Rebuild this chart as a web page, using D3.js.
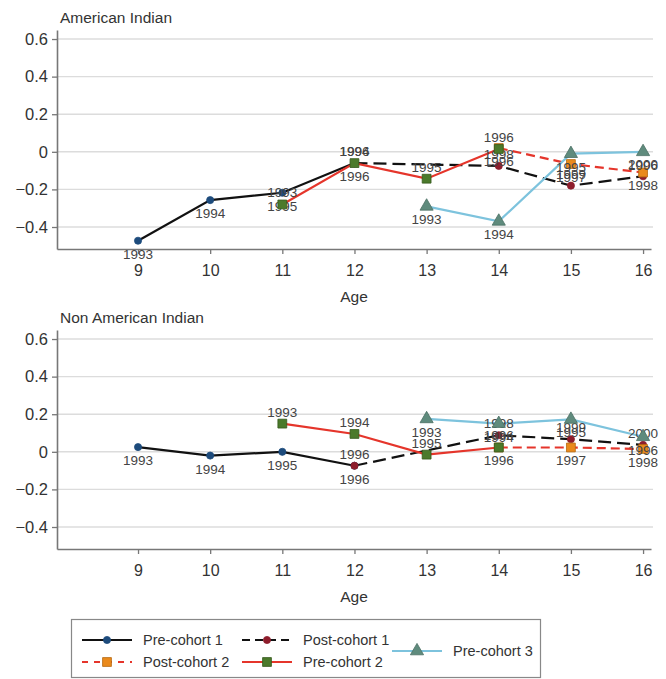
<!DOCTYPE html>
<html>
<head>
<meta charset="utf-8">
<script src="https://cdn.jsdelivr.net/npm/d3@7"></script>
<style>
  body { margin: 0; background: #fff; }
  svg { display: block; font-family: "Liberation Sans", Arial, Helvetica, sans-serif; }
</style>
</head>
<body>
<div id="app"></div>
<script>
(function (d3) {
  'use strict'

  // ---- data ----
  const panelTitles = ['American Indian', 'Non American Indian']
  const xTicks = [9, 10, 11, 12, 13, 14, 15, 16]
  const yTicks = [-0.4, -0.2, 0, 0.2, 0.4, 0.6]
  const xLabel = 'Age'

  const preCohort1Ages = [9, 10, 11, 12]
  const preCohort1Years = [1993, 1994, 1995, 1996]
  const preCohort1AI = [-0.473, -0.257, -0.218, -0.06]
  const preCohort1NonAI = [0.025, -0.02, 0.0, -0.074]

  const postCohort1Ages = [12, 14, 15, 16]
  const postCohort1Years = [1996, 1998, 1999, 2000]
  const postCohort1AI = [-0.06, -0.075, -0.18, -0.13]
  const postCohort1NonAI = [-0.074, 0.088, 0.067, 0.037]

  const postCohort2Ages = [14, 15, 16]
  const postCohort2Years = [1996, 1997, 1998]
  const postCohort2AI = [0.02, -0.065, -0.11]
  const postCohort2NonAI = [0.023, 0.023, 0.015]

  const preCohort2Ages = [11, 12, 13, 14]
  const preCohort2Years = [1993, 1994, 1995, 1996]
  const preCohort2AI = [-0.28, -0.06, -0.143, 0.015]
  const preCohort2NonAI = [0.15, 0.095, -0.015, 0.023]

  const preCohort3Ages = [13, 14, 15, 16]
  const preCohort3Years = [1993, 1994, 1995, 1996]
  const preCohort3AI = [-0.29, -0.37, -0.01, 0.0]
  const preCohort3NonAI = [0.175, 0.15, 0.172, 0.08]

  const build = (ages, years, vals) => ages.map((a, i) => ({ age: a, year: years[i], v: vals[i] }))

  // series styles (legend order)
  const series = [
    { name: 'Pre-cohort 1', line: '#111', dash: null, marker: 'circle', fill: '#1d4b7c', stroke: '#1d4b7c', label: 'below',
      data: [build(preCohort1Ages, preCohort1Years, preCohort1AI), build(preCohort1Ages, preCohort1Years, preCohort1NonAI)] },
    { name: 'Post-cohort 1', line: '#111', dash: '13,6', marker: 'circle', fill: '#8e1d2c', stroke: '#8e1d2c', label: 'above',
      data: [build(postCohort1Ages, postCohort1Years, postCohort1AI), build(postCohort1Ages, postCohort1Years, postCohort1NonAI)] },
    { name: 'Post-cohort 2', line: '#e5352b', dash: '9,5', marker: 'square', fill: '#ea8a1c', stroke: '#b5680f', label: 'below',
      data: [build(postCohort2Ages, postCohort2Years, postCohort2AI), build(postCohort2Ages, postCohort2Years, postCohort2NonAI)] },
    { name: 'Pre-cohort 2', line: '#e5352b', dash: null, marker: 'square', fill: '#4b7a2b', stroke: '#35591c', label: 'above',
      data: [build(preCohort2Ages, preCohort2Years, preCohort2AI), build(preCohort2Ages, preCohort2Years, preCohort2NonAI)] },
    { name: 'Pre-cohort 3', line: '#7dc3dd', dash: null, marker: 'triangle', fill: '#5f8b7d', stroke: '#4a6f63', label: 'below',
      data: [build(preCohort3Ages, preCohort3Years, preCohort3AI), build(preCohort3Ages, preCohort3Years, preCohort3NonAI)] }
  ]

  const W = 666, H = 679
  const svg = d3.select('#app').append('svg').attr('width', W).attr('height', H)

  const x = d3.scaleLinear().domain([7.877, 16.11]).range([57, 651])
  const y = d3.scaleLinear().domain([-0.517, 0.648]).range([249, 30])

  const fmt = d3.format('.1f')
  const markerPath = function (type) {
    if (type === 'square') return d3.symbol(d3.symbolSquare, 78)()
    if (type === 'triangle') return d3.symbol(d3.symbolTriangle, 75)()
    return d3.symbol(d3.symbolCircle, 40)()
  }

  panelTitles.forEach(function (title, p) {
    const g = svg.append('g').attr('transform', 'translate(0,' + (p * 300) + ')')

    // grid
    g.append('g').selectAll('line').data(yTicks).enter().append('line')
      .attr('x1', 57).attr('x2', 653)
      .attr('y1', d => y(d)).attr('y2', d => y(d))
      .attr('stroke', '#dcdcdc').attr('stroke-width', 1.4)

    // axes
    const yAxis = d3.axisLeft(y).tickValues(yTicks).tickSize(5).tickSizeOuter(0).tickPadding(4)
      .tickFormat(d => d === 0 ? '0' : fmt(d))
    const yg = g.append('g').attr('transform', 'translate(57,0)').call(yAxis)
    yg.selectAll('text').style('font-size', '16.5px').attr('fill', '#333')

    const xAxis = d3.axisBottom(x).tickValues(xTicks).tickSize(5).tickSizeOuter(0).tickPadding(11)
    const xg = g.append('g').attr('transform', 'translate(0,249)').call(xAxis)
    xg.selectAll('text').style('font-size', '16px').attr('fill', '#333')

    g.selectAll('.domain').attr('stroke', '#777').attr('stroke-width', 1.6)
    g.selectAll('.tick line').attr('stroke', '#777').attr('stroke-width', 1.3)

    g.append('text').attr('x', 354).attr('y', 302).attr('text-anchor', 'middle')
      .style('font-size', '15.5px').attr('fill', '#333').text(xLabel)

    g.append('text').attr('x', 60).attr('y', 23)
      .style('font-size', '15.5px').attr('fill', '#333').text(title)

    const line = d3.line().x(d => x(d.age)).y(d => y(d.v))

    series.forEach(function (s) {
      const data = s.data[p]
      g.append('path').datum(data)
        .attr('d', line).attr('fill', 'none')
        .attr('stroke', s.line).attr('stroke-width', 2.2)
        .attr('stroke-dasharray', s.dash)
    })

    series.forEach(function (s) {
      const data = s.data[p]
      g.append('g').selectAll('path').data(data).enter().append('path')
        .attr('d', markerPath(s.marker))
        .attr('transform', d => 'translate(' + x(d.age) + ',' + y(d.v) + ')')
        .attr('fill', s.fill).attr('stroke', s.stroke).attr('stroke-width', 0.8)

      g.append('g').selectAll('text').data(data).enter().append('text')
        .attr('x', d => x(d.age))
        .attr('y', d => y(d.v) + (s.label === 'below' ? 18 : -7))
        .attr('text-anchor', 'middle')
        .style('font-size', '13.5px').attr('fill', '#444')
        .text(d => d.year)
    })
  })

  // ---- legend ----
  const lg = svg.append('g')
  lg.append('rect').attr('x', 71.5).attr('y', 619.5).attr('width', 469).attr('height', 58)
    .attr('fill', '#fff').attr('stroke', '#888').attr('stroke-width', 1.2)

  const legendPos = [
    { x: 82, y: 640 }, { x: 242, y: 640 }, { x: 82, y: 662 }, { x: 242, y: 662 }, { x: 392, y: 651 }
  ]
  const legendOrder = ['Pre-cohort 1', 'Post-cohort 1', 'Post-cohort 2', 'Pre-cohort 2', 'Pre-cohort 3']
  const legendDash = { 'Post-cohort 1': '8,5', 'Post-cohort 2': '6,6' }

  legendOrder.forEach(function (name, i) {
    const s = series.find(d => d.name === name)
    const pos = legendPos[i]
    lg.append('line').attr('x1', pos.x).attr('x2', pos.x + 50).attr('y1', pos.y).attr('y2', pos.y)
      .attr('stroke', s.line).attr('stroke-width', 2.2)
      .attr('stroke-dasharray', legendDash[name] || null)
    lg.append('path').attr('d', markerPath(s.marker))
      .attr('transform', 'translate(' + (pos.x + 25) + ',' + pos.y + ')')
      .attr('fill', s.fill).attr('stroke', s.stroke).attr('stroke-width', 0.8)
    lg.append('text').attr('x', pos.x + 61).attr('y', pos.y + 5)
      .style('font-size', '14.5px').attr('fill', '#333').text(name)
  })

})(d3)
</script>
</body>
</html>
